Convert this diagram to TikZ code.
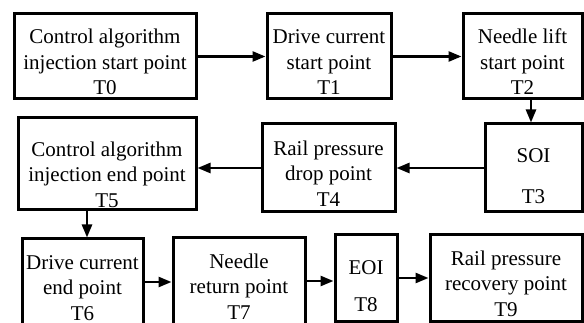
\documentclass[tikz,border=0pt]{standalone}
\usepackage{fontspec}
\setmainfont{Liberation Serif}
\usetikzlibrary{arrows.meta}

\begin{document}
\begin{tikzpicture}[
  x=1pt, y=-1pt,
  font=\fontsize{21}{25.5}\selectfont,
  >={Triangle[length=13pt,width=10pt]},
  box/.style={draw, line width=3pt, align=center, inner sep=2pt, execute at begin node={\rule{0pt}{#1}}},
  box/.default=77pt,
  line/.style={->, line width=2.5pt}
]
\clip (0,0) rectangle (584,323);

% first row
\node[box, minimum width=182pt, minimum height=85pt] (t0) at (105,56.5) {Control algorithm\\injection start point\\T0};
\node[box, minimum width=124pt, minimum height=85pt] (t1) at (329,56.5) {Drive current\\start point\\T1};
\node[box, minimum width=119pt, minimum height=85pt] (t2) at (522.5,56.5) {Needle lift\\start point\\T2};

% second row, right to left
\node[box=71pt, minimum width=97pt, minimum height=88pt] (t3) at (533.5,168) {SOI\\[15pt]T3};
\node[box, minimum width=133pt, minimum height=88pt] (t4) at (328.5,168) {Rail pressure\\drop point\\T4};
\node[box=88pt, minimum width=178pt, minimum height=87pt] (t5) at (107,163.5) {Control algorithm\\injection end point\\T5};

% third row, cut at the bottom
\node[box, minimum width=121pt, minimum height=86pt] (t6) at (82.5,282) {Drive current\\end point\\T6};
\node[box, minimum width=132pt, minimum height=86pt] (t7) at (239,281) {Needle\\return point\\T7};
\node[box=68pt, minimum width=62pt, minimum height=86pt] (t8) at (366,278) {EOI\\[12pt]T8};
\node[box, minimum width=152pt, minimum height=86pt] (t9) at (506,278) {Rail pressure\\recovery point\\T9};

\draw[line] (t0) -- (t1);
\draw[line] (t1) -- (t2);
\draw[line] ([xshift=-2.5pt]t3.north |- t2.south) -- ([xshift=-2.5pt]t3.north);
\draw[line] (t3) -- (t4);
\draw[line] (t4.west) -- (t4.west -| t5.east);
\draw[line] ([xshift=4.5pt]t6.north |- t5.south) -- ([xshift=4.5pt]t6.north);
\draw[line] (t6.east) -- (t6.east -| t7.west);
\draw[line] (t7.east) -- (t7.east -| t8.west);
\draw[line] (t8) -- (t9);
\end{tikzpicture}
\end{document}
